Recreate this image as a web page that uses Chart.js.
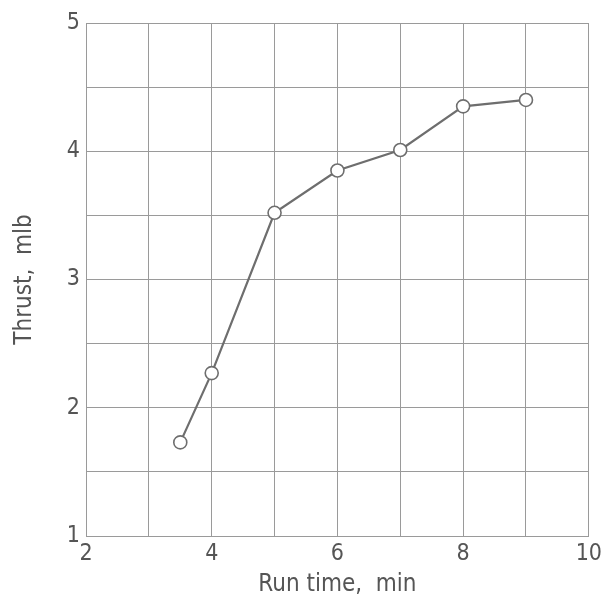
<!DOCTYPE html>
<html>
<head>
<meta charset="utf-8">
<script src="https://cdn.jsdelivr.net/npm/chart.js@4/dist/chart.umd.min.js"></script>
<style>
  html, body { margin: 0; padding: 0; background: #fff; }
  canvas { display: block; }
</style>
</head>
<body>
<canvas id="thrustChart" width="606" height="605"></canvas>
<script>
// run time (min) and thrust (mlb)
const runTime = [3.5, 4, 5, 6, 7, 8, 9];
const thrust = [1.73, 2.27, 3.52, 3.85, 4.01, 4.35, 4.4];
const xLabels = [2, 4, 6, 8, 10];
const yLabels = [1, 2, 3, 4, 5];

const ink = "#6e6e6e";
const gridInk = "#9a9a9a";
const font = "'DejaVu Sans Condensed', 'Liberation Sans Narrow', 'DejaVu Sans', sans-serif";

const points = runTime.map((t, i) => ({ x: t, y: thrust[i] }));

new Chart(document.getElementById("thrustChart"), {
  type: "scatter",
  data: {
    datasets: [
      {
        data: points,
        showLine: true,
        borderColor: ink,
        borderWidth: 2.2,
        pointRadius: 6.5,
        pointBorderWidth: 1.6,
        pointBackgroundColor: "#fff",
        pointBorderColor: ink
      }
    ]
  },
  options: {
    responsive: false,
    animation: false,
    devicePixelRatio: 1,
    layout: { padding: { top: 23, right: 16, left: 0, bottom: 0 } },
    plugins: {
      legend: { display: false },
      tooltip: { enabled: false }
    },
    scales: {
      x: {
        type: "linear",
        min: 2,
        max: 10,
        afterFit: (s) => { s.height = 69; },
        grid: { color: gridInk, lineWidth: 1, drawTicks: false },
        border: { color: gridInk, width: 1 },
        ticks: {
          stepSize: 1,
          padding: 4,
          color: "#555",
          font: { family: font, size: 23 },
          callback: (v) => (xLabels.includes(v) ? String(v) : "")
        },
        title: {
          display: true,
          text: "Run time,  min",
          color: "#555",
          font: { family: font, size: 24 },
          padding: { top: 0, bottom: 6 }
        }
      },
      y: {
        type: "linear",
        min: 1,
        max: 5,
        afterFit: (s) => { s.width = 86; },
        grid: { color: gridInk, lineWidth: 1, drawTicks: false },
        border: { color: gridInk, width: 1 },
        ticks: {
          stepSize: 0.5,
          padding: 6,
          color: "#555",
          font: { family: font, size: 23 },
          callback: (v) => (yLabels.includes(v) ? String(v) : "")
        },
        title: {
          display: true,
          text: "Thrust,  mlb",
          color: "#555",
          font: { family: font, size: 24 },
          padding: { top: 10, bottom: 0 }
        }
      }
    }
  }
});
</script>
</body>
</html>
